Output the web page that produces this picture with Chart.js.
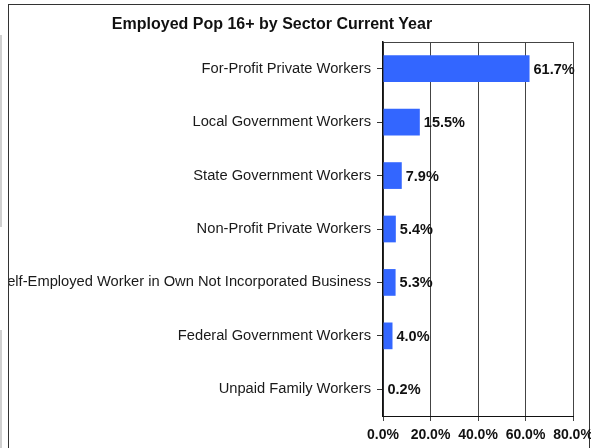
<!DOCTYPE html>
<html>
<head>
    <title>Employed Pop 16+ by Sector</title>
    <style>
        body {
            margin: 0;
            padding: 0;
            background-color: #fff;
            font-family: Arial, "Liberation Sans", sans-serif;
            overflow: hidden;
        }

        .frame {
            position: absolute;
            left: 8px;
            top: 4px;
            width: 580px;
            height: 460px;
            border: 1px solid #333;
        }

        .edge {
            position: absolute;
            left: 0;
            width: 2px;
            background-color: #d0d0d0;
        }

        .title {
            position: absolute;
            left: 0;
            top: 15px;
            width: 544px;
            text-align: center;
            font-weight: bold;
            font-size: 16px;
            line-height: 18px;
            color: #111;
        }

        #sectorChart {
            position: absolute;
            left: 9px;
            top: 0;
        }
    </style>
</head>
<body>
<div class="edge" style="top:35px;height:192px"></div>
<div class="edge" style="top:330px;height:118px"></div>
<div class="frame"></div>
<canvas id="sectorChart" width="582" height="448"></canvas>
<div class="title">Employed Pop 16+ by Sector Current Year</div>

<script src="https://cdn.jsdelivr.net/npm/chart.js@4.4.1/dist/chart.umd.min.js"></script>
<script>
    const sectors = [
        'For-Profit Private Workers',
        'Local Government Workers',
        'State Government Workers',
        'Non-Profit Private Workers',
        'Self-Employed Worker in Own Not Incorporated Business',
        'Federal Government Workers',
        'Unpaid Family Workers'
    ];
    const shares = [61.7, 15.5, 7.9, 5.4, 5.3, 4.0, 0.2];
    const xTicks = [0, 20, 40, 60, 80];

    // etiquetas de valor a la derecha de cada barra
    const valueLabels = {
        id: 'valueLabels',
        afterDatasetsDraw(chart) {
            const ctx = chart.ctx;
            const meta = chart.getDatasetMeta(0);
            ctx.save();
            ctx.font = 'bold 14.5px Arial, "Liberation Sans", sans-serif';
            ctx.fillStyle = '#111';
            ctx.textAlign = 'left';
            ctx.textBaseline = 'middle';
            meta.data.forEach((bar, i) => {
                ctx.fillText(shares[i].toFixed(1) + '%', bar.x + 4, bar.y + 1);
            });
            ctx.restore();
        }
    };

    new Chart(document.getElementById('sectorChart'), {
        type: 'bar',
        data: {
            labels: sectors,
            datasets: [{
                data: shares,
                backgroundColor: '#3366ff',
                borderWidth: 0,
                categoryPercentage: 1,
                barPercentage: 0.5
            }]
        },
        options: {
            indexAxis: 'y',
            responsive: false,
            animation: false,
            devicePixelRatio: 1,
            layout: {
                padding: {top: 42, right: 18, bottom: 0, left: 0}
            },
            plugins: {
                legend: {display: false},
                tooltip: {enabled: false},
                title: {display: false}
            },
            scales: {
                x: {
                    min: 0,
                    max: 80,
                    afterBuildTicks: scale => {
                        scale.ticks = xTicks.map(v => ({value: v}));
                    },
                    afterFit: scale => {
                        scale.height = 32;
                        scale.paddingLeft = 0;
                        scale.paddingRight = 0;
                    },
                    grid: {
                        color: '#444',
                        lineWidth: 1,
                        tickLength: 5,
                        drawTicks: true
                    },
                    border: {color: '#111', width: 1},
                    ticks: {
                        padding: 6,
                        color: '#111',
                        font: {family: 'Arial, "Liberation Sans", sans-serif', size: 14, weight: 'bold'},
                        callback: v => v.toFixed(1) + '%'
                    }
                },
                x2: {
                    position: 'top',
                    min: 0,
                    max: 80,
                    grid: {display: false},
                    ticks: {display: false},
                    border: {color: '#444', width: 1},
                    afterFit: scale => {
                        scale.height = 0;
                        scale.paddingLeft = 0;
                        scale.paddingRight = 0;
                    }
                },
                y: {
                    afterFit: scale => {
                        scale.width = 374;
                        scale.paddingTop = 0;
                        scale.paddingBottom = 0;
                    },
                    grid: {
                        offset: false,
                        drawOnChartArea: false,
                        drawTicks: true,
                        tickLength: 6,
                        color: '#333'
                    },
                    border: {color: '#111', width: 1.5},
                    ticks: {
                        padding: 6,
                        color: '#1a1a1a',
                        autoSkip: false,
                        font: {family: 'Arial, "Liberation Sans", sans-serif', size: 14.7}
                    }
                }
            }
        },
        plugins: [valueLabels]
    });
</script>
</body>
</html>
